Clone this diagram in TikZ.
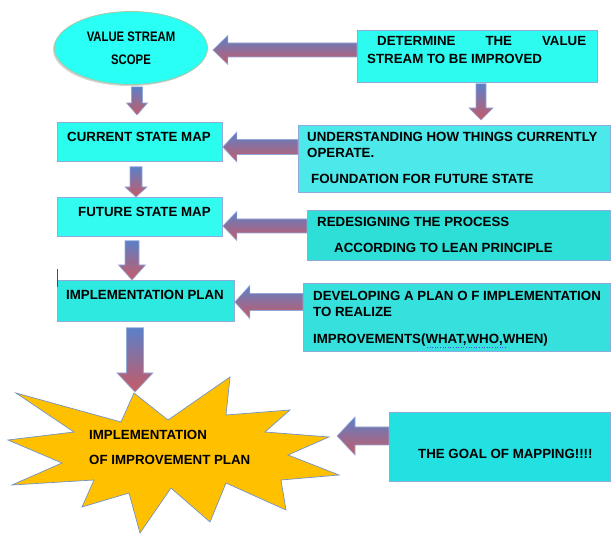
\documentclass[tikz,border=0pt]{standalone}
\usepackage{fontspec}
\setmainfont{Liberation Sans}
\newfontfamily\narrowsans{Liberation Sans}[FakeStretch=0.82]
\usetikzlibrary{calc,shapes.geometric,shadows}

\definecolor{cardline}{HTML}{8FAADC}
\definecolor{scopeline}{HTML}{A9C8A4}
\definecolor{scopefill}{HTML}{29FFF4}
\definecolor{detfill}{HTML}{2EFBF0}
\definecolor{curfill}{HTML}{2AFCEE}
\definecolor{undfill}{HTML}{4CE8EA}
\definecolor{futfill}{HTML}{33FBF0}
\definecolor{redfill}{HTML}{2EDFD8}
\definecolor{implfill}{HTML}{2EE9E0}
\definecolor{devfill}{HTML}{36E0DC}
\definecolor{goalfill}{HTML}{22E1E0}
\definecolor{burstfill}{HTML}{FFC000}
\definecolor{burstline}{HTML}{7393C6}
\definecolor{arrowtop}{HTML}{5B80C8}
\definecolor{arrowbot}{HTML}{C85A66}
\definecolor{arrowline}{HTML}{93AAD8}

\newcommand{\cardfont}{\fontsize{13.3}{16}\selectfont\bfseries}

% block arrow pointing left: tail anchor, tip anchor, axis y, gap at tip,
% head length, head half width, shaft half width
\newcommand{\leftblock}[7]{%
  \path (#1 |- 0,#3) coordinate (tail) (#2 |- 0,#3) ++(#4,0) coordinate (tip);
  \shadedraw[blockarrow] (tip) -- ++(#5,-#6) -- ++(0,#6-#7) -- ($(tail)+(0,-#7)$)
    -- ($(tail)+(0,#7)$) -- ($(tip)+(#5,#7)$) -- ++(0,#6-#7) -- cycle;}

% block arrow pointing down: tail anchor, tip anchor, axis x, gap at tail,
% gap at tip, head length, head half width, shaft half width
\newcommand{\downblock}[8]{%
  \path (#3,0 |- #1) ++(0,#4) coordinate (tail) (#3,0 |- #2) ++(0,-#5) coordinate (tip);
  \shadedraw[blockarrow] (tip) -- ++(-#7,-#6) -- ++(#7-#8,0) -- ($(tail)+(-#8,0)$)
    -- ($(tail)+(#8,0)$) -- ($(tip)+(#8,-#6)$) -- ++(#7-#8,0) -- cycle;}

\tikzset{
  card/.style={draw=cardline, line width=0.8pt, anchor=north west, inner sep=0pt},
  cardtext/.style={anchor=north west, inner sep=0pt, align=left, font=\cardfont},
  blockarrow/.style={draw=arrowline, line width=0.6pt, top color=arrowtop, bottom color=arrowbot},
}

\begin{document}
\begin{tikzpicture}[x=1pt,y=-1pt]
\useasboundingbox (0,0) rectangle (611,534);

% main steps on the left
\node[ellipse, draw=scopeline, line width=0.8pt, fill=scopefill, minimum width=153pt,
  minimum height=73pt, inner sep=0pt, align=center,
  font=\fontsize{13.8}{16}\selectfont\narrowsans\bfseries,
  drop shadow={shadow xshift=-1.5pt, shadow yshift=-1.5pt, fill=gray, opacity=0.35}]
  (scope) at (131,48) {VALUE STREAM\\[7pt]SCOPE};

\node[card, fill=curfill, minimum width=165pt, minimum height=39pt] (cur) at (57,122) {};
\node[cardtext] (curtext) at (67,132.5) {CURRENT STATE MAP};

\node[card, fill=futfill, minimum width=165pt, minimum height=39pt] (fut) at (57,197) {};
\node[cardtext] (futtext) at (78,207.5) {FUTURE STATE MAP};

\node[card, fill=implfill, minimum width=177pt, minimum height=41pt] (impl) at (57,280) {};
\node[cardtext] (impltext) at (66,290.5) {IMPLEMENTATION PLAN};
\draw[gray!60!black, line width=0.8pt] ([yshift=11pt]impl.north west) -- ([yshift=-7pt]impl.north west);

% the final goal
\draw[fill=burstfill, draw=burstline, line width=0.7pt]
  (134,393) coordinate (bursttop) -- (168,420) -- (230,377) -- (226,415) -- (290,410)
  -- (265,432) -- (329,437) coordinate (burstright) -- (288,455) -- (339,475) -- (281,480)
  -- (286,510) -- (226,483) -- (210,522) -- (171,488) -- (140,533) -- (129,493)
  -- (82,507) -- (94,480) -- (12,485) -- (62,463) -- (8,440) -- (74,432) -- (16,393)
  -- (121,422) -- cycle;
\node[cardtext] (bursttext) at (89,430.5) {IMPLEMENTATION\\[9pt]OF IMPROVEMENT PLAN};

% explanations on the right
\node[card, fill=detfill, minimum width=240pt, minimum height=52pt] (det) at (357,30) {};
\node[cardtext] (dettext) at (367,36.5)
  {\hspace*{10pt}\makebox[209pt][s]{DETERMINE THE VALUE}\\[2pt]STREAM TO BE IMPROVED};

\node[card, fill=undfill, minimum width=312pt, minimum height=67pt] (und) at (298,125) {};
\node[cardtext] (undtext) at (307,132.5)
  {UNDERSTANDING HOW THINGS CURRENTLY\\OPERATE.\\[10pt]\hspace*{4pt}FOUNDATION FOR FUTURE STATE};

\node[card, fill=redfill, minimum width=303pt, minimum height=50pt] (red) at (307,210) {};
\node[cardtext] (redtext) at (317,217.5)
  {REDESIGNING THE PROCESS\\[10pt]\hspace*{17pt}ACCORDING TO LEAN PRINCIPLE};

\node[card, fill=devfill, minimum width=307pt, minimum height=68pt] (dev) at (303,283) {};
\node[cardtext] (devtext) at (313,291.5)
  {DEVELOPING A PLAN O F IMPLEMENTATION\\TO REALIZE\\[11pt]IMPROVEMENTS(WHAT,WHO,WHEN)};
\draw[blue!70, line width=0.6pt, dotted] ($(devtext.south west)+(114,0.5)$) -- ++(80,0);

\node[card, fill=goalfill, minimum width=221pt, minimum height=69pt] (goal) at (389,412) {};
\node[cardtext] (goaltext) at (418,449.5) {THE GOAL OF MAPPING!!!!};

% arrows
\leftblock{det.west}{scope.east}{50}{5}{15}{14.5}{7}
\leftblock{und.west}{cur.east}{147}{0}{14}{15}{7.5}
\leftblock{red.west}{fut.east}{226}{0}{14}{14.5}{7}
\leftblock{dev.west}{impl.east}{302}{0}{15}{16.5}{8.5}
\leftblock{goal.west}{burstright}{436}{8}{18}{19}{9}

\downblock{scope.south}{cur.north}{137}{2}{7}{12}{10.5}{5.5}
\downblock{det.south}{und.north}{481}{1}{5}{12}{12}{5}
\downblock{cur.south}{fut.north}{136}{5}{0}{10}{11}{6}
\downblock{fut.south}{impl.north}{132}{4}{0}{15}{13.5}{7}
\downblock{impl.south}{bursttop}{135}{6}{1}{19}{18}{8.5}
\end{tikzpicture}
\end{document}
